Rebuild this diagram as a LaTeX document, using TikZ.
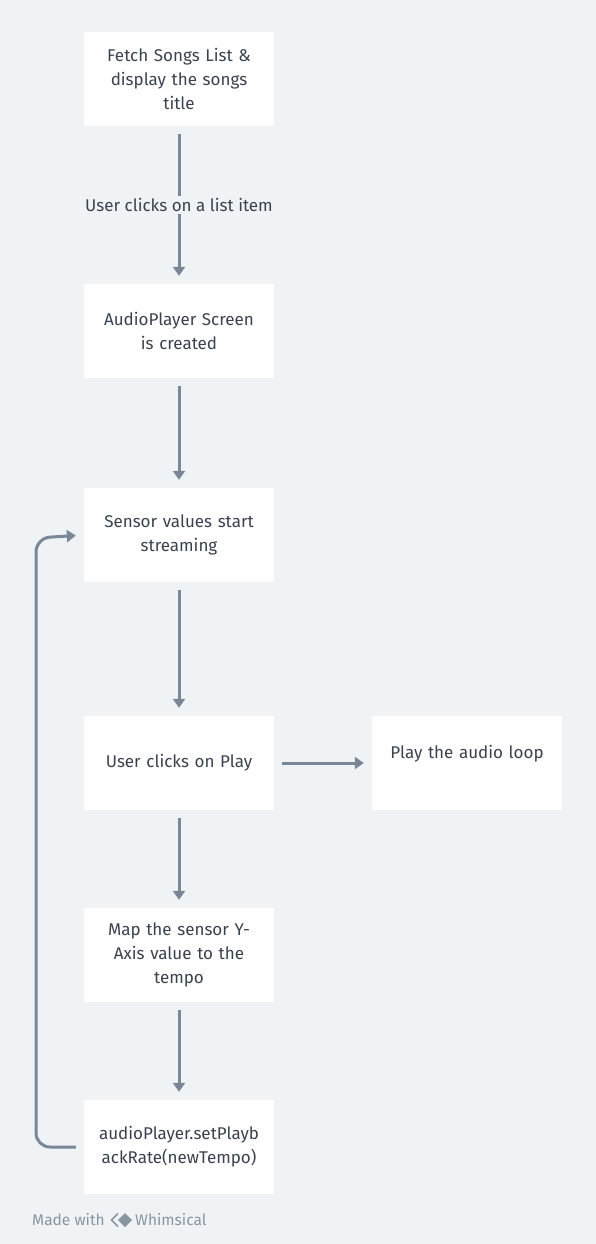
\documentclass[tikz,border=0pt]{standalone}
\usepackage{fontspec}
\setmainfont{Fira Sans}
\usetikzlibrary{arrows.meta}
\definecolor{canvas}{HTML}{EFF3F6}
\definecolor{wire}{HTML}{7A8796}
\definecolor{ink}{HTML}{39424E}
\definecolor{faint}{HTML}{8A95A1}

\begin{document}
\begin{tikzpicture}[x=1pt,y=-1pt,
	step box/.style={fill=white,minimum width=190pt,minimum height=94pt,
		text width=182pt,align=center,text=ink,font=\fontsize{17}{24}\selectfont},
	flow/.style={draw=wire,line width=3pt,shorten <=8pt,shorten >=8pt,
		-{Triangle[length=9pt,width=12pt]}},
	note/.style={fill=canvas,text=ink,font=\fontsize{17}{20}\selectfont,inner sep=2pt}]

	\fill[canvas] (0,0) rectangle (596,1244);
	\useasboundingbox (0,0) rectangle (596,1244);

	% main column
	\node[step box] (fetch) at (179,79) {Fetch Songs List \&\\display the songs\\title};
	\node[step box] (screen) at (179,331) {AudioPlayer Screen\\is created};
	\node[step box] (sensor) at (179,535) {Sensor values start\\streaming};
	\node[step box] (play) at (179,763) {User clicks on Play};
	\node[step box] (map) at (179,955) {Map the sensor Y-\\Axis value to the\\tempo};
	\node[step box] (rate) at (179,1147) {audioPlayer.setPlayb\\ackRate(newTempo)};

	% side box, text sits near the top
	\node[step box,text depth=22pt] (loop) at (467,763) {Play the audio loop};

	\draw[flow] (fetch) -- node[note] (click) {User clicks on a list item} (screen);
	\draw[flow] (screen) -- (sensor);
	\draw[flow] (sensor) -- (play);
	\draw[flow] (play) -- (loop);
	\draw[flow] (play) -- (map);
	\draw[flow] (map) -- (rate);

	% back to the sensor
	\coordinate (turn) at (36,538);
	\draw[flow,rounded corners=14pt] (rate.west) -| (turn) -- (sensor.west);

	% footer
	\node[anchor=west,text=faint,font=\fontsize{15.5}{16}\selectfont,inner sep=0pt] (made) at (32,1220) {Made with};
	\path[fill=faint] (118,1220) -- (125,1213) -- (132,1220) -- (125,1227) -- cycle;
	\path[draw=faint,line width=1.6pt] (118,1213.5) -- (111.5,1220) -- (118,1226.5);
	\node[anchor=west,text=faint,font=\fontsize{15.5}{16}\selectfont,inner sep=0pt] (brand) at (135,1220) {Whimsical};
\end{tikzpicture}
\end{document}
